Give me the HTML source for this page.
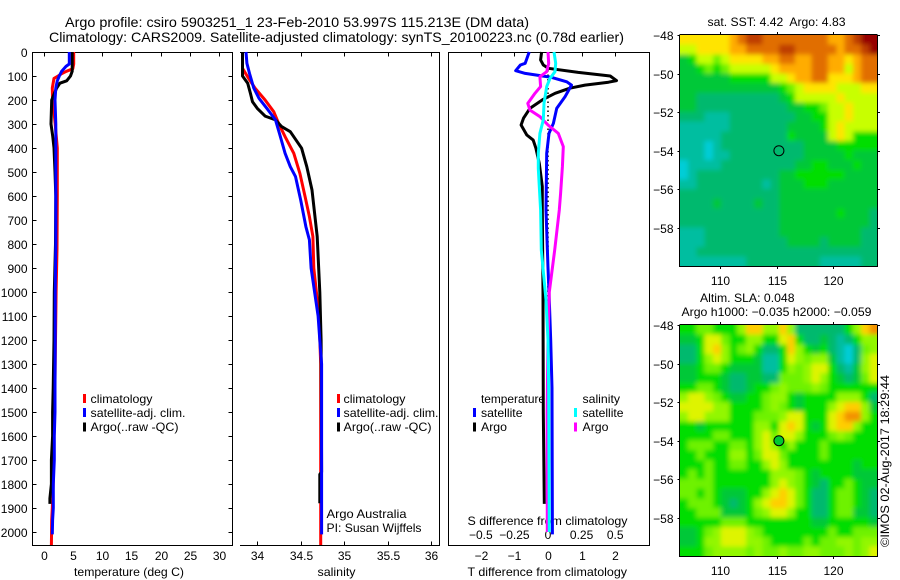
<!DOCTYPE html>
<html>
<head>
<meta charset="utf-8">
<title>Argo profile</title>
<style>
html,body{margin:0;padding:0;background:#fff;}
svg{display:block;}
text{font-family:"Liberation Sans",sans-serif;font-size:12px;fill:#000;}
</style>
</head>
<body>
<svg id="chart" width="900" height="580" viewBox="0 0 900 580" xmlns="http://www.w3.org/2000/svg">
  <defs>
    <clipPath id="clip-sst"><rect x="680" y="35" width="197.5" height="231"></rect></clipPath>
    <clipPath id="clip-sla"><rect x="680" y="325" width="197.5" height="231"></rect></clipPath>
    <filter id="soft" x="-10%" y="-10%" width="120%" height="120%"><feGaussianBlur stdDeviation="2.4"></feGaussianBlur></filter>
  </defs>
  <text x="65" y="27" font-size="14" style="font-size:14px" textLength="464" lengthAdjust="spacingAndGlyphs">Argo profile: csiro 5903251_1 23-Feb-2010 53.997S 115.213E (DM data)</text>
  <text x="49" y="42" style="font-size:14px" textLength="575" lengthAdjust="spacingAndGlyphs">Climatology: CARS2009. Satellite-adjusted climatology: synTS_20100223.nc (0.78d earlier)</text>
  <text x="74" y="576" textLength="110" lengthAdjust="spacingAndGlyphs">temperature (deg C)</text>
  <text x="317.5" y="576" textLength="38" lengthAdjust="spacingAndGlyphs">salinity</text>
  <text x="467.5" y="525" textLength="160" lengthAdjust="spacingAndGlyphs">S difference from climatology</text>
  <text x="467.5" y="576" textLength="159.5" lengthAdjust="spacingAndGlyphs">T difference from climatology</text>
  <text x="326.5" y="518" textLength="80" lengthAdjust="spacingAndGlyphs">Argo Australia</text>
  <text x="326.5" y="532" textLength="95" lengthAdjust="spacingAndGlyphs">PI: Susan Wijffels</text>
  <text x="707.5" y="26" textLength="138" lengthAdjust="spacingAndGlyphs" xml:space="preserve">sat. SST: 4.42  Argo: 4.83</text>
  <text x="700" y="302" textLength="94.5" lengthAdjust="spacingAndGlyphs">Altim. SLA: 0.048</text>
  <text x="681.5" y="316" textLength="190" lengthAdjust="spacingAndGlyphs">Argo h1000: −0.035 h2000: −0.059</text>
  <text transform="translate(889,547) rotate(-90)" textLength="172" lengthAdjust="spacingAndGlyphs">©IMOS 02-Aug-2017 18:29:44</text>
</svg>
<script>
// ---- profile data (depth in dbar, temperature deg C, salinity PSU, differences) ----
const depthTicks = [0,100,200,300,400,500,600,700,800,900,1000,1100,1200,1300,1400,1500,1600,1700,1800,1900,2000];
const tempTicks = [0,5,10,15,20,25,30];
const salTicks = [34,34.5,35,35.5,36];
const salTickLabels = ['34','34.5','35','35.5','36'];
const tDiffTicks = [-2,-1,0,1,2];
const tDiffTickLabels = ['−2','−1','0','1','2'];
const sDiffTicks = [-0.5,-0.25,0,0.25,0.5];
const sDiffTickLabels = ['−0.5','−0.25','0','0.25','0.5'];
const lonTicks = [110,115,120];
const latTicks = [-48,-50,-52,-54,-56,-58];
const latTickLabels = ['−48','−50','−52','−54','−56','−58'];

const tempClimDepth = [0,50,70,80,90,100,110,150,200,250,300,400,600,820,1000,1200,1400,1600,1800,1900,1950,2054];
const tempClim = [5.15,5.15,5.0,3.96,3.1,2.5,1.8,1.5,1.55,1.8,2.0,2.36,2.36,2.3,2.15,2.05,1.95,1.8,1.65,1.5,1.4,1.35];
const tempSatDepth = [0,50,60,80,100,120,150,200,300,400,600,800,1000,1200,1400,1500,1600,1700,1800,1900,1950,2010];
const tempSat = [4.4,4.4,3.84,3.1,2.7,2.36,2.1,1.96,2.1,2.1,2.1,2.1,2.0,2.0,1.96,1.96,1.85,1.85,1.67,1.67,1.55,1.5];
const tempArgoDepth = [0,80,100,120,130,150,170,200,300,350,400,500,600,800,1000,1200,1400,1500,1600,1700,1800,1860,1883];
const tempArgo = [4.9,4.9,4.6,3.96,2.8,2.25,1.9,1.4,1.28,1.57,1.8,1.96,2.1,2.05,1.85,1.8,1.65,1.55,1.55,1.35,1.35,1.1,1.1];

const salClimDepth = [0,68,110,151,200,249,297,353,422,506,603,686,769,900,1000,1100,1300,2054];
const salClim = [33.83,33.83,33.9,33.975,34.09,34.19,34.245,34.32,34.42,34.49,34.55,34.6,34.64,34.65,34.68,34.71,34.73,34.73];
const salSatDepth = [0,47,89,151,193,235,283,346,422,478,519,617,728,783,900,1000,1100,1200,1300,2010];
const salSat = [33.87,33.88,33.91,33.96,34.02,34.11,34.21,34.26,34.32,34.38,34.44,34.5,34.56,34.6,34.62,34.66,34.7,34.72,34.74,34.74];
const salArgoDepth = [0,100,130,172,207,235,267,283,311,332,401,478,575,769,1000,1200,1750,1760,1880];
const salArgo = [33.83,33.83,33.89,33.92,33.945,34.0,34.09,34.21,34.28,34.38,34.51,34.57,34.63,34.69,34.72,34.735,34.74,34.72,34.72];

const dTSatDepth = [0,47,54,78,89,106,124,138,186,235,297,339,422,658,900,1000,1200,1400,2010];
const dTSat = [-0.56,-0.68,-0.82,-0.96,-0.68,0.11,0.56,0.7,0.51,0.26,0.16,0.03,-0.04,-0.06,0.0,0.03,0.08,0.12,0.13];
const dTArgoDepth = [0,33,54,68,85,100,119,126,138,151,172,197,235,276,304,346,367,401,464,561,658,1000,1500,1883];
const dTArgo = [-0.19,-0.22,-0.14,0.01,0.9,1.85,2.04,1.8,1.1,0.65,0.21,-0.14,-0.54,-0.73,-0.8,-0.63,-0.44,-0.36,-0.26,-0.17,-0.17,-0.15,-0.14,-0.11];
const dSSatDepth = [0,47,82,110,144,214,283,339,422,485,658,825,1033,1200,1400,2000];
const dSSat = [0.045,0.057,0.052,0.015,-0.01,-0.03,-0.035,-0.06,-0.072,-0.072,-0.055,-0.05,-0.015,0.0,0.005,0.01];
const dSArgoDepth = [0,47,82,103,144,172,214,242,269,304,339,394,478,589,658,825,1000,1200,1500,2000];
const dSArgo = [0.0,0.005,-0.01,-0.06,-0.055,-0.097,-0.15,-0.134,-0.06,0.0,0.077,0.114,0.107,0.094,0.084,0.05,0.01,0.0,-0.007,-0.005];

// ---- map data: colour-scale index per cell, rows from 48S southward, columns from 106.5E eastward ----
const sstCells = [
[9,9,9,9,9,9,10,11,12,12,11,11,11,11,11,11,11,11,10,10,11,12,13,13],
[8,8,9,9,9,9,10,10,11,11,11,11,12,12,11,11,11,11,11,10,11,11,12,13],
[5,6,8,8,7,8,9,9,9,9,10,10,11,11,10,10,11,11,10,10,9,10,11,11],
[5,5,6,7,6,7,8,8,8,8,8,9,10,10,10,10,11,11,10,10,8,10,11,11],
[5,5,5,5,5,5,6,6,6,6,6,8,8,9,10,10,11,11,9,9,9,10,11,11],
[5,5,5,5,5,5,5,5,5,5,5,5,6,7,8,9,9,9,9,8,8,8,9,9],
[5,5,4,4,4,4,4,4,4,4,4,4,5,6,8,8,8,8,8,9,8,8,8,8],
[5,5,4,4,4,4,4,4,4,4,4,4,4,5,5,6,6,7,8,8,9,8,8,8],
[4,4,4,3,3,3,4,4,4,4,4,4,4,4,5,5,6,6,8,8,9,8,8,8],
[3,3,3,3,3,3,4,4,4,4,4,4,4,5,5,5,5,6,8,9,8,8,8,8],
[3,3,3,3,3,4,4,4,4,4,4,4,4,6,5,5,5,5,8,9,8,6,6,6],
[3,3,3,2,3,4,4,4,4,4,4,4,4,4,4,5,5,5,5,6,6,6,6,6],
[3,3,3,2,3,3,4,4,4,4,4,4,4,4,4,5,5,5,5,5,6,5,5,5],
[2,3,3,3,3,4,4,4,4,4,4,4,4,4,5,5,6,6,5,5,5,6,5,5],
[2,3,4,4,4,4,4,4,4,4,4,4,5,5,6,6,6,6,6,6,5,5,5,5],
[3,3,4,4,4,4,4,4,4,4,3,4,5,5,5,6,6,6,5,5,5,5,5,5],
[4,4,4,4,4,4,4,4,4,4,4,4,5,5,5,5,5,5,5,5,5,5,5,5],
[4,4,4,4,5,4,4,4,4,5,4,4,5,5,5,5,5,5,5,5,5,5,5,5],
[4,4,4,4,4,4,4,4,4,4,4,4,5,5,5,5,5,5,5,6,5,5,5,4],
[4,4,4,4,4,4,4,4,4,4,4,4,5,5,5,5,5,5,5,5,5,5,5,4],
[3,3,3,4,4,4,4,4,4,4,4,4,5,5,5,5,5,5,5,5,5,5,4,4],
[3,3,3,4,4,4,4,4,4,4,4,4,4,5,5,5,5,4,5,5,5,5,4,4],
[3,3,4,4,4,4,4,4,4,4,4,4,4,4,4,4,4,4,4,4,4,4,4,4],
[3,3,3,3,3,3,3,3,4,4,4,4,4,4,4,4,4,3,3,3,3,3,4,4]
];
const slaCells = [
[6,6,7,7,6,6,6,8,10,10,8,8,10,8,4,4,4,4,4,4,6,8,10,11],
[5,5,6,9,9,7,6,6,8,8,6,6,9,10,6,4,4,5,4,3,4,6,8,8],
[4,4,6,9,10,8,6,7,8,6,4,4,6,10,8,6,5,6,4,3,2,4,7,8],
[4,4,6,8,9,8,6,6,6,5,3,3,6,9,8,7,8,8,5,3,2,4,8,9],
[5,5,6,7,7,6,5,5,5,5,3,3,6,8,7,8,9,9,6,4,3,5,8,9],
[5,5,6,6,6,5,4,4,5,5,4,4,7,7,7,8,9,8,6,5,4,5,7,9],
[6,6,7,7,6,5,4,4,5,6,6,7,8,7,7,7,8,7,6,6,6,6,6,6],
[8,9,9,8,7,6,5,5,6,6,7,8,8,6,5,6,6,6,6,8,8,8,6,4],
[9,9,9,9,8,8,6,6,6,6,7,8,7,6,5,6,6,6,8,9,10,10,8,5],
[8,9,9,8,8,8,6,6,6,7,7,7,8,9,9,6,6,6,9,10,11,11,8,6],
[6,6,5,6,6,6,6,6,6,8,8,6,9,10,9,6,5,6,9,10,10,8,6,6],
[6,6,6,6,7,7,6,6,6,8,9,7,9,9,8,6,6,6,7,8,7,6,6,6],
[6,7,7,7,6,6,7,7,6,8,9,8,6,8,6,6,6,7,6,6,6,6,6,6],
[6,6,7,6,6,6,8,8,6,7,9,9,7,6,6,6,6,7,6,6,6,6,6,6],
[6,6,6,7,6,6,7,7,6,6,8,9,8,6,6,6,6,6,6,6,6,5,6,6],
[6,7,6,7,6,6,6,6,6,6,6,8,8,8,7,6,5,6,6,6,6,5,5,5],
[7,7,7,7,6,6,6,6,6,6,6,8,9,8,7,6,5,4,6,6,7,6,5,5],
[7,7,6,7,6,5,5,5,6,6,8,9,10,9,7,6,4,4,6,7,7,6,5,4],
[6,7,7,7,6,5,4,5,6,8,9,10,10,9,7,6,4,4,6,7,7,6,5,4],
[6,6,7,7,7,5,5,5,6,7,8,9,9,8,6,6,4,4,6,7,7,5,5,4],
[6,6,6,6,6,7,7,7,6,6,6,6,6,6,6,6,5,5,6,6,6,6,6,5],
[5,5,6,7,8,9,9,9,8,7,6,6,6,6,6,6,6,6,7,6,6,7,7,7],
[5,5,6,8,8,9,9,9,8,8,7,6,6,6,6,7,6,7,7,8,8,7,8,8],
[6,6,6,7,8,8,8,8,7,8,7,7,8,7,7,8,8,7,7,7,8,7,8,9]
];
const floatLon = 115.213;
const floatLat = -53.997;

// ---- axis functions ----
const svg = document.getElementById('chart');
const NS = 'http://www.w3.org/2000/svg';
const yDepth = d => 52 + d * 0.24;
const xTemp = t => 43.5 + t * 5.86;
const xSal = s => 257.3 + (s - 34) * 86.85;
const xDT = t => 548 + t * 33.6;
const xDS = s => 548 + s * 134.4;
const xLon = lon => 720 + (lon - 110) * 11.3;
const ySst = lat => 35 + (-48 - lat) * 19.3;
const ySla = lat => 325 + (-48 - lat) * 19.3;
const colourStops = [[0,190,255],[0,200,235],[0,205,215],[0,190,160],[0,185,110],[0,200,55],[0,222,0],[110,242,0],[200,255,0],[255,228,0],[255,172,0],[225,110,0],[190,60,0],[150,0,0]];
function cellColour(v) {
  const c = Math.max(0, Math.min(colourStops.length - 1.001, v));
  const i = Math.floor(c), f = c - i;
  const a = colourStops[i], b = colourStops[i + 1];
  return 'rgb(' + a.map((p, k) => Math.round(p + (b[k] - p) * f)).join(',') + ')';
}
function make(tag, parent) {
  const el = document.createElementNS(NS, tag);
  (parent || svg).appendChild(el);
  return el;
}
function hline(name, x1, y1, x2, y2, parent, w) {
  const l = make('line', parent);
  
  
  l.setAttribute('x1', x1); l.setAttribute('y1', y1);
  l.setAttribute('x2', x2); l.setAttribute('y2', y2);
  l.setAttribute('stroke', '#000');
  l.setAttribute('stroke-width', w || 1);
  l.setAttribute('shape-rendering', 'crispEdges');
  return l;
}
function label(name, str, x, y, anchor, width) {
  const t = make('text');
  
  
  t.setAttribute('x', x);
  t.setAttribute('y', y);
  if (anchor) t.setAttribute('text-anchor', anchor);
  if (width) {
    t.setAttribute('textLength', width);
    t.setAttribute('lengthAdjust', 'spacingAndGlyphs');
  }
  t.textContent = str;
  return t;
}
function profile(name, xs, depths, colour, xFn, width) {
  const p = make('polyline');
  
  
  p.setAttribute('points', xs.map((v, i) => xFn(v).toFixed(1) + ',' + yDepth(depths[i]).toFixed(1)).join(' '));
  p.setAttribute('fill', 'none');
  p.setAttribute('stroke', colour);
  p.setAttribute('stroke-width', width || 3);
  p.setAttribute('stroke-linejoin', 'round');
  return p;
}
function swatch(name, x, y, colour) {
  const r = make('rect');
  
  
  r.setAttribute('x', x); r.setAttribute('y', y);
  r.setAttribute('width', 3); r.setAttribute('height', 9);
  r.setAttribute('fill', colour);
}

// ---- panel 1: temperature ----
hline('temperature-panel-top', 32.5, 52.5, 232.5, 52.5);
hline('temperature-panel-bottom', 32.5, 545.5, 232.5, 545.5);
hline('temperature-panel-left', 32.5, 52, 32.5, 546);
hline('temperature-panel-right', 232.5, 52, 232.5, 546);
depthTicks.forEach(d => {
  const y = Math.round(yDepth(d)) + 0.5;
  hline('depth-tick-left', 32.5, y, 36.5, y);
  hline('depth-tick-right', 228.5, y, 232.5, y);
  label('depth-tick-label', String(d), 27.5, y + 4.5, 'end');
});
tempTicks.forEach(t => {
  const x = Math.round(xTemp(t)) + 0.5;
  hline('temperature-tick', x, 52.5, x, 56.5);
  label('temperature-tick-label', String(t), x, 560, 'middle');
});
profile('temperature-climatology-line', tempClim, tempClimDepth, '#ff0000', xTemp);
profile('temperature-argo-line', tempArgo, tempArgoDepth, '#000000', xTemp);
profile('temperature-satellite-line', tempSat, tempSatDepth, '#0000ff', xTemp);
swatch('legend-swatch-climatology', 83, 394, '#ff0000');
swatch('legend-swatch-satellite', 83, 408, '#0000ff');
swatch('legend-swatch-argo', 83, 422.5, '#000000');
label('legend-climatology', 'climatology', 90.5, 403, null, 62);
label('legend-satellite', 'satellite-adj. clim.', 90.5, 417, null, 95);
label('legend-argo', 'Argo(..raw -QC)', 90.5, 431, null, 88);

// ---- panel 2: salinity ----
hline('salinity-panel-top', 240, 52.5, 439.5, 52.5);
hline('salinity-panel-bottom', 240, 545.5, 439.5, 545.5);
hline('salinity-panel-right', 439.5, 52, 439.5, 546);
salTicks.forEach((s, i) => {
  const x = Math.round(xSal(s)) + 0.5;
  hline('salinity-tick-top', x, 52.5, x, 56.5);
  hline('salinity-tick-bottom', x, 541.5, x, 545.5);
  label('salinity-tick-label', salTickLabels[i], x, 560, 'middle');
});
profile('salinity-climatology-line', salClim, salClimDepth, '#ff0000', xSal);
profile('salinity-argo-line', salArgo, salArgoDepth, '#000000', xSal);
profile('salinity-satellite-line', salSat, salSatDepth, '#0000ff', xSal);
swatch('legend2-swatch-climatology', 337, 394, '#ff0000');
swatch('legend2-swatch-satellite', 337, 408, '#0000ff');
swatch('legend2-swatch-argo', 337, 422.5, '#000000');
label('legend2-climatology', 'climatology', 343.5, 403, null, 62);
label('legend2-satellite', 'satellite-adj. clim.', 343.5, 417, null, 95);
label('legend2-argo', 'Argo(..raw -QC)', 343.5, 431, null, 88);

// ---- panel 3: differences ----
hline('difference-panel-top', 448.5, 52.5, 649.5, 52.5);
hline('difference-panel-bottom', 448.5, 545.5, 649.5, 545.5);
hline('difference-panel-left', 448.5, 52, 448.5, 546);
hline('difference-panel-right', 649.5, 52, 649.5, 546);
tDiffTicks.forEach((t, i) => {
  const x = Math.round(xDT(t)) + 0.5;
  hline('difference-tick', x, 52.5, x, 56.5);
  label('t-difference-tick-label', tDiffTickLabels[i], x, 560, 'middle');
});
sDiffTicks.forEach((s, i) => {
  label('s-difference-tick-label', sDiffTickLabels[i], xDS(s), 539, 'middle');
});
const zeroLine = make('line');


zeroLine.setAttribute('x1', xDT(0)); zeroLine.setAttribute('y1', yDepth(0));
zeroLine.setAttribute('x2', xDT(0)); zeroLine.setAttribute('y2', yDepth(2000));
zeroLine.setAttribute('stroke', '#000');
zeroLine.setAttribute('stroke-dasharray', '1.5 3');
zeroLine.setAttribute('stroke-width', 1.5);
profile('t-difference-argo-line', dTArgo, dTArgoDepth, '#000000', xDT);
profile('t-difference-satellite-line', dTSat, dTSatDepth, '#0000ff', xDT);
profile('s-difference-argo-line', dSArgo, dSArgoDepth, '#ff00ff', xDS);
profile('s-difference-satellite-line', dSSat, dSSatDepth, '#00ffff', xDS);
swatch('legend3-swatch-t-satellite', 473, 408, '#0000ff');
swatch('legend3-swatch-t-argo', 473, 422.5, '#000000');
swatch('legend3-swatch-s-satellite', 574, 408, '#00ffff');
swatch('legend3-swatch-s-argo', 574, 422.5, '#ff00ff');
label('legend3-temperature-heading', 'temperature', 481, 403, null, 64);
label('legend3-t-satellite', 'satellite', 481, 417, null, 41.5);
label('legend3-t-argo', 'Argo', 481, 431, null, 26);
label('legend3-salinity-heading', 'salinity', 582.5, 403, null, 37.5);
label('legend3-s-satellite', 'satellite', 582.5, 417, null, 41);
label('legend3-s-argo', 'Argo', 582.5, 431, null, 26);

// ---- maps ----
function drawMap(prefix, cells, yLat, clipId, top, bottom, xLabelY, fillMarker, colourFn) {
  const clip = make('g');
  clip.setAttribute('clip-path', 'url(#' + clipId + ')');
  
  
  const g = make('g', clip);
  g.setAttribute('filter', 'url(#soft)');
  g.setAttribute('shape-rendering', 'crispEdges');
  const rows = cells.length, cols = cells[0].length;
  const cw = 197.5 / cols, ch = (bottom - top) / rows;
  const left = 680;
  cells.forEach((row, r) => {
    row.forEach((v, c) => {
      const rect = make('rect', g);
      
      
      const padL = c === 0 ? 12 : 0, padR = c === cols - 1 ? 12 : 0.5;
      const padT = r === 0 ? 12 : 0, padB = r === rows - 1 ? 12 : 0.5;
      rect.setAttribute('x', left + c * cw - padL);
      rect.setAttribute('y', top + r * ch - padT);
      rect.setAttribute('width', cw + padL + padR);
      rect.setAttribute('height', ch + padT + padB);
      rect.setAttribute('fill', colourFn(v));
    });
  });
  hline(prefix + '-frame-left', 679.5, top, 679.5, bottom + 1);
  hline(prefix + '-frame-right', 877.5, top, 877.5, bottom + 1);
  hline(prefix + '-frame-top', 679.5, top - 0.5, 877.5, top - 0.5);
  hline(prefix + '-frame-bottom', 679.5, bottom + 0.5, 877.5, bottom + 0.5);
  latTicks.forEach((lat, i) => {
    const y = Math.round(yLat(lat)) + 0.5;
    hline(prefix + '-lat-tick-left', 677.5, y, 680, y);
    hline(prefix + '-lat-tick-right', 877.5, y, 880, y);
    label(prefix + '-lat-label', latTickLabels[i], 673.5, y + 4.5, 'end');
  });
  lonTicks.forEach(lon => {
    const x = Math.round(xLon(lon)) + 0.5;
    hline(prefix + '-lon-tick-top', x, top - 3, x, top);
    hline(prefix + '-lon-tick-bottom', x, bottom, x, bottom + 3);
    label(prefix + '-lon-label', String(lon), x, xLabelY, 'middle');
  });
  const m = make('circle');
  
  
  m.setAttribute('cx', xLon(floatLon));
  m.setAttribute('cy', yLat(floatLat));
  m.setAttribute('r', 5);
  m.setAttribute('fill', fillMarker);
  m.setAttribute('stroke', '#000');
  m.setAttribute('stroke-width', 1);
}
drawMap('sst', sstCells, ySst, 'clip-sst', 35, 266, 285, 'none', cellColour);
drawMap('sla', slaCells, ySla, 'clip-sla', 325, 556, 575, '#00c832', v => cellColour(v > 7 ? v - 0.6 : v));
</script>
</body>
</html>
